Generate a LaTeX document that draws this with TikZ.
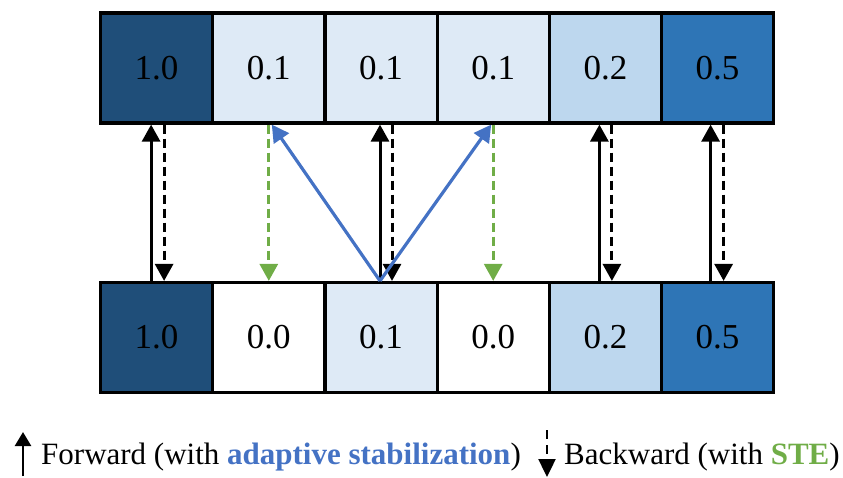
\documentclass[tikz,border=0pt]{standalone}
\usepackage{xcolor}
\usepackage{fontspec}
\setmainfont{Liberation Serif}
\usepackage{tikz}
\usetikzlibrary{arrows.meta}
\definecolor{wdark}{HTML}{1F4E79}
\definecolor{wmid}{HTML}{2E75B6}
\definecolor{wlight}{HTML}{BDD7EE}
\definecolor{wpale}{HTML}{DEEAF6}
\definecolor{stabblue}{HTML}{4472C4}
\definecolor{stegreen}{HTML}{70AD47}
\tikzset{>={Triangle[width=18pt,length=17pt]}}

\begin{document}
\begin{tikzpicture}[x=1pt,y=-1pt,
	cell/.style={draw,line width=3.2pt,minimum width=112.2pt,minimum height=110pt,inner sep=0pt,font=\fontsize{35}{40}\selectfont},
	fwd/.style={->,line width=3pt},
	bwd/.style={->,line width=3pt,dash pattern=on 9pt off 5pt},
	ste/.style={bwd,color=stegreen},
	stab/.style={->,line width=3.2pt,color=stabblue}]
	\useasboundingbox (0,0) rectangle (843,477);
	% weights before
	\node[cell,fill=wdark] (t1) at (156.6,68) {1.0};
	\node[cell,fill=wpale] (t2) at (268.8,68) {0.1};
	\node[cell,fill=wpale] (t3) at (381.0,68) {0.1};
	\node[cell,fill=wpale] (t4) at (493.2,68) {0.1};
	\node[cell,fill=wlight] (t5) at (605.4,68) {0.2};
	\node[cell,fill=wmid] (t6) at (717.6,68) {0.5};
	% weights after
	\node[cell,fill=wdark] (b1) at (156.6,337.5) {1.0};
	\node[cell,fill=white] (b2) at (268.8,337.5) {0.0};
	\node[cell,fill=wpale] (b3) at (381.0,337.5) {0.1};
	\node[cell,fill=white] (b4) at (493.2,337.5) {0.0};
	\node[cell,fill=wlight] (b5) at (605.4,337.5) {0.2};
	\node[cell,fill=wmid] (b6) at (717.6,337.5) {0.5};
	% forward / backward
	\draw[fwd] ([xshift=-5.5pt]b1.north) -- ([xshift=-5.5pt]t1.south);
	\draw[bwd] ([xshift=7.5pt]t1.south) -- ([xshift=7.5pt]b1.north);
	\draw[fwd] ([xshift=-1pt]b3.north) -- ([xshift=-1pt]t3.south);
	\draw[bwd] ([xshift=11pt]t3.south) -- ([xshift=11pt]b3.north);
	\draw[fwd] ([xshift=-6pt]b5.north) -- ([xshift=-6pt]t5.south);
	\draw[bwd] ([xshift=6.5pt]t5.south) -- ([xshift=6.5pt]b5.north);
	\draw[fwd] ([xshift=-7pt]b6.north) -- ([xshift=-7pt]t6.south);
	\draw[bwd] ([xshift=6pt]t6.south) -- ([xshift=6pt]b6.north);
	% pruned weights
	\draw[ste] (t2.south) -- (b2.north);
	\draw[ste] (t4.south) -- (b4.north);
	\draw[stab] ([xshift=-1pt]b3.north) -- ([xshift=3pt]t2.south);
	\draw[stab] ([xshift=-1pt]b3.north) -- ([xshift=-2pt]t4.south);
	% legend
	\coordinate (lf0) at (23,476);
	\coordinate (lf1) at (23,432);
	\coordinate (lb0) at (547,430);
	\coordinate (lb1) at (547,477);
	\draw[->,line width=2.4pt,>={Triangle[width=16pt,length=14pt]}] (lf0) -- (lf1);
	\draw[->,line width=2.4pt,dash pattern=on 9pt off 6pt,>={Triangle[width=17pt,length=18pt]}] (lb0) -- (lb1);
	\node[anchor=base west,inner sep=0pt,font=\fontsize{31}{36}\selectfont] (lgf) at (41,464)
		{Forward (with \textcolor{stabblue}{\textbf{adaptive stabilization}})};
	\node[anchor=base west,inner sep=0pt,font=\fontsize{31}{36}\selectfont] (lgb) at (564,464)
		{Backward (with \textcolor{stegreen}{\textbf{STE}})};
\end{tikzpicture}
\end{document}
